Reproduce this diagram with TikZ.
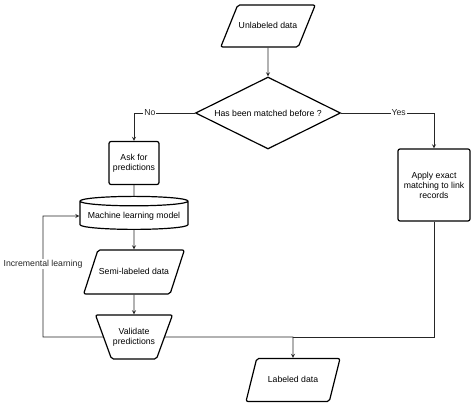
\documentclass[tikz,border=0pt]{standalone}
\usepackage{fontspec}
\setmainfont{Liberation Sans}
\usetikzlibrary{shapes.geometric}

\tikzset{
  every node/.style={font=\fontsize{8.7}{10}\selectfont},
  box/.style={draw, very thick, rounded corners=2pt, align=center, inner sep=1pt},
  iodata/.style={draw, very thick, rounded corners=2pt, trapezium, trapezium left angle=68,
    trapezium right angle=112, trapezium stretches body, text height=6.5pt, text depth=1.5pt,
    inner xsep=1pt},
  decision/.style={draw, very thick, diamond, aspect=2, inner sep=0pt},
  manual/.style={draw, very thick, rounded corners=2pt, trapezium, trapezium left angle=70,
    trapezium right angle=70, shape border rotate=180, trapezium stretches body,
    align=center, inner xsep=1pt, inner ysep=13pt},
  store/.style={draw, very thick, cylinder, shape border rotate=90, aspect=0.1, inner sep=1pt},
  line/.style={line width=0.8pt, black!85},
  tag/.style={fill=white, inner sep=1pt}
}

\begin{document}
\begin{tikzpicture}[x=1pt, y=-1pt, >=stealth]
			\useasboundingbox (0,0) rectangle (474,406);
			\node [iodata, minimum width=92pt, inner ysep=17pt] (unl) at (268,26) {Unlabeled data};
			\node [decision, minimum width=145pt, minimum height=72pt] (dec) at (268,113) {Has been matched before ?};
			\node [box, minimum width=50pt, minimum height=43pt] (ask) at (134,163) {Ask for\\predictions};
			\node [box, minimum width=72pt, minimum height=72pt] (app) at (434,185) {Apply exact\\matching to link\\records};
			\node [store, minimum width=108pt, minimum height=33pt] (ml) at (134,216) {Machine learning model};
			\node [iodata, minimum width=94pt, inner ysep=18pt, trapezium left angle=72, trapezium right angle=108] (semi) at (134,272) {Semi-labeled data};
			\node [manual, minimum width=77pt] (val) at (134,337) {Validate\\predictions};
			\node [iodata, minimum width=94pt, inner ysep=17.5pt, trapezium left angle=76, trapezium right angle=104] (lab) at (293,380) {Labeled data};
			\coordinate (fb) at (43,337);
			\coordinate (mrg) at (293,337);
			% arrows
			\draw [line, ->] (unl.south) -- (dec.north);
			\draw [line, ->] (dec.west) -| node [tag, pos=0.37] {No} (ask.north);
			\draw [line, ->] (dec.east) -| node [tag, pos=0.31] {Yes} (app.north);
			\draw [line] (ask.south) -- (ml.north);
			\draw [line, ->] (ml.south) -- (semi.north);
			\draw [line, ->] (semi.south) -- (val.north);
			\draw [line, ->] (val.west) -- (fb) |- node [tag, pos=0.3] {Incremental learning} (ml.west);
			\draw [line, ->] (val.east) -- (mrg) -- (lab.north);
			\draw [line] (app.south) |- (mrg);
		\end{tikzpicture}
\end{document}
